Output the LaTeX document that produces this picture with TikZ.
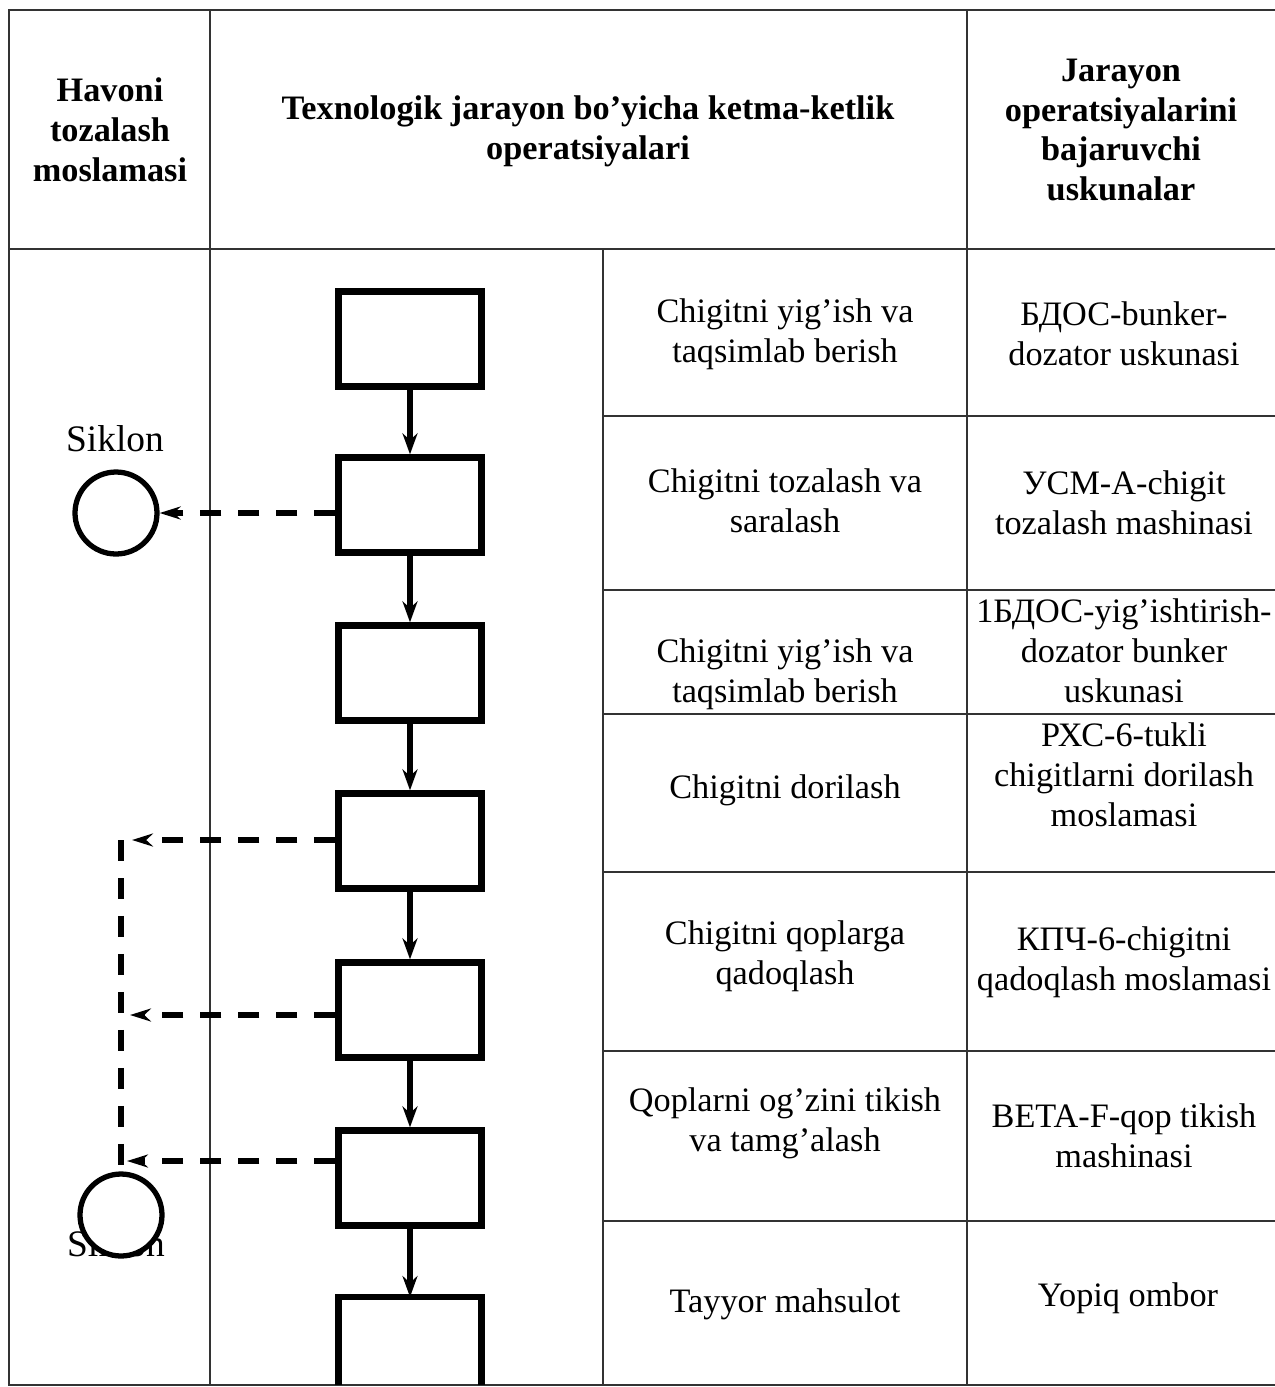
\documentclass[tikz,border=0pt]{standalone}
\usepackage{fontspec}
\setmainfont{Liberation Serif}
\usetikzlibrary{arrows.meta}
\begin{document}
\begin{tikzpicture}[x=0.02cm,y=-0.02cm,
  grid/.style={line width=0.8pt, draw=black!80},
  txt/.style={align=center, font=\fontsize{19.5pt}{22.7pt}\selectfont, inner sep=0pt},
  lbl/.style={align=center, font=\fontsize{21.3pt}{24pt}\selectfont, inner sep=0pt},
  head/.style={align=center, font=\fontsize{19.5pt}{22.7pt}\selectfont\bfseries, inner sep=0pt},
  opbox/.style={draw, line width=3.6pt, minimum width=2.86cm, minimum height=1.9cm, inner sep=0pt},
  flow/.style={line width=3pt, -{Stealth[length=0.42cm,width=0.3cm]}},
  exhaust/.style={line width=3pt, dash pattern=on 0.42cm off 0.34cm, -{Stealth[length=0.42cm,width=0.26cm]}},
  duct/.style={line width=3pt, dash pattern=on 0.42cm off 0.34cm},
  cyclone/.style={circle, draw, fill=white, line width=3pt, minimum size=1.64cm, inner sep=0pt}]

\useasboundingbox (0,0) rectangle (1275,1387);

% table frame
\draw[grid] (1280,10) -- (9,10) -- (9,1385) -- (1280,1385);
\draw[grid] (9,249) -- (1280,249);
\draw[grid] (210,10) -- (210,1385);
\draw[grid] (967,10) -- (967,1385);
\draw[grid] (603,249) -- (603,1385);
\foreach \y in {416,590,714,872,1051,1221}
  \draw[grid] (603,\y) -- (1280,\y);

% header
\node[head] (h1) at (110,130) {Havoni\\tozalash\\moslamasi};
\node[head] (h2) at (588,131) {Texnologik jarayon bo’yicha ketma-ketlik\\operatsiyalari};
\node[head] (h3) at (1121,130) {Jarayon\\operatsiyalarini\\bajaruvchi\\uskunalar};

% operations
\node[txt] (l1) at (785,334) {Chigitni yig’ish va\\taqsimlab berish};
\node[txt] (l2) at (785,501) {Chigitni tozalash va\\saralash};
\node[txt] (l3) at (785,674) {Chigitni yig’ish va\\taqsimlab berish};
\node[txt] (l4) at (785,790) {Chigitni dorilash};
\node[txt] (l5) at (785,956) {Chigitni qoplarga\\qadoqlash};
\node[txt] (l6) at (785,1123) {Qoplarni og’zini tikish\\va tamg’alash};
\node[txt] (l7) at (785,1304) {Tayyor mahsulot};

% equipment
\node[txt] (r1) at (1124,334) {БДОС-bunker-\\dozator uskunasi};
\node[txt] (r2) at (1124,503) {УСМ-А-chigit\\tozalash mashinasi};
\node[txt] (r3) at (1124,651) {1БДОС-yig’ishtirish-\\dozator bunker\\uskunasi};
\node[txt] (r4) at (1124,775) {РХС-6-tukli\\chigitlarni dorilash\\moslamasi};
\node[txt] (r5) at (1124,962) {КПЧ-6-chigitni\\qadoqlash moslamasi};
\node[txt] (r6) at (1124,1136) {BETA-F-qop tikish\\mashinasi};
\node[txt] (r7) at (1128,1298) {Yopiq ombor};

% process boxes
\node[opbox] (b1) at (410,339) {};
\node[opbox] (b2) at (410,505) {};
\node[opbox] (b3) at (410,673) {};
\node[opbox] (b4) at (410,841) {};
\node[opbox] (b5) at (410,1010) {};
\node[opbox] (b6) at (410,1178) {};
\node[opbox, draw=none, outer sep=0pt, minimum height=1.76cm] (b7) at (410,1341) {};
\draw[line width=3.6pt] (b7.south west) -- (b7.north west) -- (b7.north east) -- (b7.south east);

% material flow
\draw[flow] (b1.south) -- (b2.north);
\draw[flow] (b2.south) -- (b3.north);
\draw[flow] (b3.south) -- (b4.north);
\draw[flow] (b4.south) -- (b5.north);
\draw[flow] (b5.south) -- (b6.north);
\draw[flow] (b6.south) -- (b7.north);

% cyclones
\node[lbl] (s1) at (115,439) {Siklon};
\node[lbl] (s2) at (116,1244) {Siklon};
\node[cyclone] (c1) at (116,513) {};
\node[cyclone] (c2) at (121,1215) {};

% air ducts
\coordinate (k) at (121,840);
\coordinate (t4) at (132,840);
\coordinate (t5) at (130,1015);
\coordinate (t6) at (127,1161);
\draw[exhaust] (b2.west |- c1.east) -- (c1.east);
\draw[exhaust] (b4.west |- t4) -- (t4);
\draw[exhaust] (b5.west |- t5) -- (t5);
\draw[exhaust] (b6.west |- t6) -- (t6);
\draw[duct] (k) -- (c2.north);
\end{tikzpicture}
\end{document}
